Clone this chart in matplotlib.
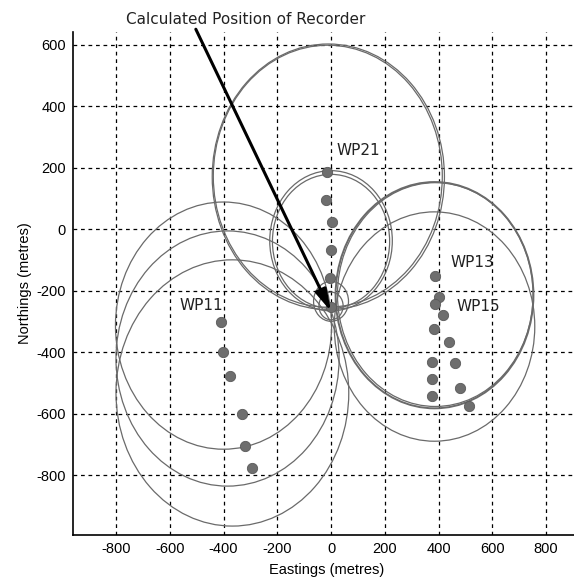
import matplotlib
matplotlib.use("Agg")
import matplotlib.pyplot as plt
from matplotlib.patches import Circle

plt.rcParams["axes.unicode_minus"] = False

# ---- data ----
wp21_x = [-16, -19, 5, 0, -4, 0]
wp21_y = [186, 94, 22, -68, -160, -255]
wp13_x = [387, 403, 387, 418, 383, 440, 374, 463, 374, 481, 374, 513]
wp13_y = [-152, -220, -244, -280, -326, -366, -431, -437, -489, -516, -542, -575]
wp11_x = [-410, -403, -375, -333, -319, -295]
wp11_y = [-301, -399, -478, -603, -705, -776]

# circles: centre x, centre y, radius, line width
circ_cx = [-10, -12, 0, 0, 385, 388, 385, -400, -385, -367, 0, 0]
circ_cy = [170, 172, -38, -40, -215, -213, -317, -314, -421, -533, -235, -250]
circ_r = [432, 426, 228, 218, 368, 364, 373, 402, 415, 433, 65, 45]
circ_lw = [0.9, 0.9, 0.9, 0.9, 1.4, 0.9, 0.9, 0.9, 0.9, 0.9, 0.9, 0.9]

labels = ["WP21", "WP13", "WP15", "WP11"]
label_x = [19, 445, 467, -565]
label_y = [257, -110, -253, -247]

recorder = (0, -268)
arrow_start = (-503, 650)
title = "Calculated Position of Recorder"

xticks = [-800, -600, -400, -200, 0, 200, 400, 600, 800]
yticks = [-800, -600, -400, -200, 0, 200, 400, 600]

# ---- figure ----
fig = plt.figure(figsize=(5.74, 5.77), dpi=100)
ax = fig.add_axes([73 / 574, 1 - 535 / 577, (581 - 73) / 574, (535 - 32) / 577])
ax.set_xlim(-960, 930)
ax.set_ylim(-995, 641)

ax.grid(True, color="black", linestyle=(0, (3, 3)), linewidth=0.9)
ax.set_axisbelow(True)
ax.set_xticks(xticks)
ax.set_yticks(yticks)
ax.tick_params(length=0, labelsize=10.5, pad=5)
for lab in ax.get_xticklabels() + ax.get_yticklabels():
    lab.set_family("Liberation Sans")
for s in ["top", "right"]:
    ax.spines[s].set_visible(False)
for s in ["left", "bottom"]:
    ax.spines[s].set_linewidth(1.2)

for cx, cy, r, lw in zip(circ_cx, circ_cy, circ_r, circ_lw):
    ax.add_patch(Circle((cx, cy), r, fill=False, edgecolor="#6a6a6a", linewidth=lw, zorder=2))

pt_kw = dict(s=55, color="#6e6e6e", edgecolors="#5a5a5a", linewidths=0.6, zorder=3)
ax.scatter(wp21_x, wp21_y, **pt_kw)
ax.scatter(wp13_x, wp13_y, **pt_kw)
ax.scatter(wp11_x, wp11_y, **pt_kw)

for t, x, y in zip(labels, label_x, label_y):
    ax.text(x, y, t, fontsize=11, family="DejaVu Sans", color="#222222",
            va="center", ha="left", zorder=4)

ax.annotate("", xy=recorder, xytext=arrow_start, annotation_clip=False,
            arrowprops=dict(arrowstyle="-|>,head_length=1.3,head_width=0.35",
                            color="black", lw=2.2, shrinkA=0, shrinkB=0),
            zorder=5)
fig.text(246 / 574, 1 - 20 / 577, title, fontsize=11, family="DejaVu Sans",
         color="#222222", ha="center", va="center")

ax.set_xlabel("Eastings (metres)", fontsize=10.5, family="Liberation Sans", labelpad=5)
ax.set_ylabel("Northings (metres)", fontsize=10.5, family="Liberation Sans", labelpad=3)

fig.savefig("out.png", dpi=100)
